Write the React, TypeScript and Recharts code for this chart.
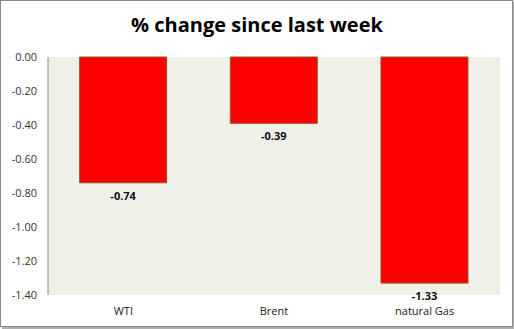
import React from 'react';
import { BarChart, Bar, XAxis, YAxis, CartesianGrid, LabelList } from 'recharts';

const categories = ['WTI', 'Brent', 'natural Gas'];
const changes = [-0.74, -0.39, -1.33];
const yTicks = [0, -0.2, -0.4, -0.6, -0.8, -1.0, -1.2, -1.4];

const data = categories.map((name, i) => ({ name, change: changes[i] }));

const font = '"Open Sans", "Liberation Sans", sans-serif';

const BarValueLabel = (props: any) => {
  const { x, y, width, height, value } = props;
  const bottom = height >= 0 ? y + height : y;
  return (
    <text
      x={x + width / 2}
      y={bottom + 17}
      textAnchor="middle"
      fontFamily={font}
      fontSize={11}
      fontWeight={700}
      fill="#111"
    >
      {Number(value).toFixed(2)}
    </text>
  );
};

const App: React.FC = () => {
  return (
    <div style={{ position: 'absolute', left: 0, top: 0, width: 514, height: 329, background: '#fff' }}>
      <div
        style={{
          position: 'absolute',
          left: 0,
          top: 0,
          width: 511,
          height: 325,
          border: '1px solid #8a8a8a',
          boxShadow: '2px 2px 1px #b0b0b0',
        }}
      />
      <div
        style={{
          position: 'absolute',
          left: 0,
          top: 11,
          width: 514,
          textAlign: 'center',
          fontFamily: font,
          fontWeight: 700,
          fontSize: 20,
          color: '#000',
        }}
      >
        % change since last week
      </div>
      <div style={{ position: 'absolute', left: 0, top: 0 }}>
        <BarChart
          width={514}
          height={329}
          data={data}
          margin={{ top: 57, right: 14, bottom: 9, left: 0 }}
          barCategoryGap="21%"
        >
          <CartesianGrid fill="#EFF0E8" horizontal={false} vertical={false} />
          <XAxis
            dataKey="name"
            axisLine={false}
            tickLine={false}
            tickSize={10}
            height={25}
            tick={{ fontFamily: font, fontSize: 11, fill: '#222' }}
          />
          <YAxis
            domain={[-1.4, 0]}
            ticks={yTicks}
            interval={0}
            width={48}
            tickLine={false}
            tickSize={9}
            axisLine={{ stroke: '#8c8c8c' }}
            tickFormatter={(v: number) => v.toFixed(2)}
            tick={{ fontFamily: font, fontSize: 11, fill: '#333' }}
          />
          <Bar dataKey="change" fill="#FF0000" stroke="#8B5A2B" strokeWidth={1} isAnimationActive={false}>
            <LabelList dataKey="change" content={BarValueLabel} />
          </Bar>
        </BarChart>
      </div>
    </div>
  );
};

export default App;
